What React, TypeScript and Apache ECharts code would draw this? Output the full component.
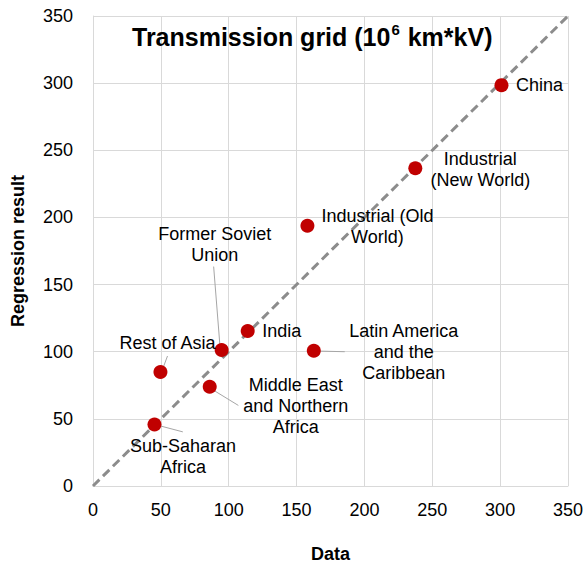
import React, { useEffect, useRef } from "react";
import * as echarts from "echarts";

const regions = [
  "China",
  "Industrial\n(New World)",
  "Industrial (Old\nWorld)",
  "Former Soviet\nUnion",
  "Rest of Asia",
  "India",
  "Middle East\nand Northern\nAfrica",
  "Latin America\nand the\nCaribbean",
  "Sub-Saharan\nAfrica",
];
const dataValues = [301, 237.5, 158, 94.8, 49.7, 114, 86, 162.7, 45.3];
const regressionValues = [298.5, 236.6, 193.8, 101.3, 84.9, 115.4, 73.9, 100.7, 45.8];
const labelOffsets: number[][] = [
  [38, 0],
  [65, 1],
  [70, 1],
  [-7, -105],
  [7, -29],
  [34, 0],
  [86, 19],
  [90, 1],
  [28.5, 32],
];
const leaderLines: number[][][] = [
  [[88.9, 163.4], [93.6, 103.7]],
  [[54.9, 96.8], [51.5, 87.6]],
  [[88.7, 71.4], [107.1, 60]],
  [[164.7, 100.5], [185.5, 100]],
  [[48.2, 45.1], [66.2, 40.3]],
];
const diagonal = [[0, 0], [350, 350]];

const FONT = "'Liberation Sans', Arial, sans-serif";

export default function App() {
  const ref = useRef<HTMLDivElement>(null);
  useEffect(() => {
    if (!ref.current) return;
    const chart = echarts.init(ref.current, undefined, { renderer: "svg" });
    const leaderSeries = leaderLines.map((seg) => ({
      type: "line",
      data: seg,
      symbol: "none",
      silent: true,
      z: 1,
      lineStyle: { color: "#a6a6a6", width: 1 },
    }));
    chart.setOption({
      animation: false,
      textStyle: { fontFamily: FONT },
      title: {
        text: "{a|Transmission grid (10}{s|6}{a| km*kV)}",
        left: 127,
        top: 17,
        textStyle: {
          rich: {
            a: { fontSize: 25, fontWeight: "bold", color: "#000", fontFamily: FONT, lineHeight: 30 },
            s: { fontSize: 15, fontWeight: "bold", color: "#000", fontFamily: FONT, verticalAlign: "top", lineHeight: 30, padding: [0, 1, 12, 1] },
          },
        },
      },
      grid: { left: 93, right: 17, top: 16, bottom: 83 },
      xAxis: {
        type: "value",
        min: 0,
        max: 350,
        interval: 50,
        name: "Data",
        nameLocation: "middle",
        nameGap: 59,
        nameTextStyle: { fontSize: 18, fontWeight: "bold", color: "#000", fontFamily: FONT },
        axisLine: { show: true, lineStyle: { color: "#d9d9d9" } },
        axisTick: { show: false },
        axisLabel: { fontSize: 18, color: "#000", margin: 15, fontFamily: FONT },
        splitLine: { show: true, lineStyle: { color: "#d9d9d9" } },
      },
      yAxis: {
        type: "value",
        min: 0,
        max: 350,
        interval: 50,
        name: "Regression result",
        nameLocation: "middle",
        nameGap: 66,
        nameTextStyle: { fontSize: 18, fontWeight: "bold", color: "#000", fontFamily: FONT },
        axisLine: { show: true, lineStyle: { color: "#d9d9d9" } },
        axisTick: { show: false },
        axisLabel: { fontSize: 18, color: "#000", margin: 20, fontFamily: FONT },
        splitLine: { show: true, lineStyle: { color: "#d9d9d9" } },
      },
      series: [
        {
          type: "line",
          data: diagonal,
          symbol: "none",
          silent: true,
          z: 2,
          lineStyle: { color: "#8c8c8c", width: 3, type: [9, 5] },
        },
        ...leaderSeries,
        {
          type: "scatter",
          z: 5,
          symbolSize: 14,
          itemStyle: { color: "#c00000", opacity: 1 },
          data: regions.map((name, i) => ({
            name,
            value: [dataValues[i], regressionValues[i]],
            label: { offset: labelOffsets[i] },
          })),
          label: {
            show: true,
            position: "inside",
            formatter: (p: any) => p.name,
            color: "#000",
            fontSize: 18,
            lineHeight: 21,
            align: "center",
            verticalAlign: "middle",
            fontFamily: FONT,
          },
        },
      ],
    });
    return () => chart.dispose();
  }, []);
  return (
    <div
      ref={ref}
      style={{ position: "fixed", left: 0, top: 0, width: 586, height: 569, background: "#fff" }}
    />
  );
}
